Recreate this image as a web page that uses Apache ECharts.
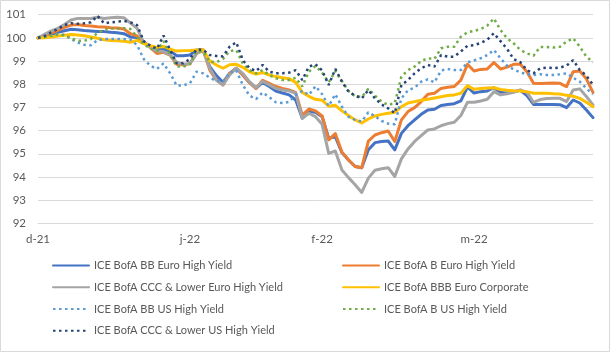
<!DOCTYPE html>
<html>
<head>
<meta charset="utf-8">
<script src="https://cdn.jsdelivr.net/npm/echarts@6/dist/echarts.min.js"></script>
<style>
html,body{margin:0;padding:0;background:#fff;}
#c{width:610px;height:352px;}
</style>
</head>
<body>
<div id="c"></div>
<script>
// Tick labels and their category positions
var tickLabels = ['d-21', 'j-22', 'f-22', 'm-22'];
var tickIndex = [0, 23, 43, 66];

// Series names
var seriesNames = [
  'ICE BofA BB Euro High Yield',
  'ICE BofA B Euro High Yield',
  'ICE BofA CCC & Lower Euro High Yield',
  'ICE BofA BBB Euro Corporate',
  'ICE BofA BB US High Yield',
  'ICE BofA B US High Yield',
  'ICE BofA CCC & Lower US High Yield'
];

var bbEuro = [100.0,100.07,100.15,100.24,100.31,100.37,100.35,100.32,100.30,100.28,100.27,100.24,100.22,100.18,100.04,100.02,99.81,99.62,99.53,99.52,99.43,99.23,99.23,99.26,99.48,99.48,98.76,98.37,98.08,98.47,98.69,98.40,98.08,97.82,98.08,97.90,97.71,97.62,97.54,97.32,96.53,96.82,96.79,96.60,95.67,95.74,95.05,94.73,94.45,94.40,95.17,95.48,95.53,95.55,95.17,95.88,96.21,96.46,96.70,96.89,96.92,97.08,97.13,97.16,97.28,97.88,97.62,97.68,97.71,97.85,97.65,97.62,97.68,97.74,97.51,97.13,97.13,97.13,97.13,97.12,96.99,97.32,97.19,96.89,96.56];

var bEuro = [100.0,100.09,100.21,100.32,100.45,100.55,100.58,100.53,100.51,100.48,100.47,100.44,100.43,100.38,100.18,100.08,99.84,99.58,99.33,99.38,99.26,98.86,98.83,98.89,99.33,99.46,98.61,98.18,97.97,98.47,98.69,98.40,98.08,97.82,98.17,98.04,97.90,97.82,97.75,97.65,96.67,96.93,96.85,96.63,95.60,95.87,95.07,94.73,94.45,94.40,95.55,95.81,95.91,95.98,95.53,96.46,96.82,96.99,97.25,97.57,97.61,97.82,97.87,97.90,98.18,98.86,98.57,98.64,98.66,98.94,98.66,98.74,98.86,98.86,98.54,98.04,98.03,98.04,98.05,98.04,97.90,98.54,98.57,98.23,97.65];

var cccEuro = [100.0,100.15,100.30,100.41,100.58,100.77,100.84,100.84,100.84,100.89,100.84,100.87,100.89,100.87,100.64,100.41,99.81,99.59,99.43,99.41,99.26,98.95,98.86,98.90,99.33,99.48,98.69,98.18,97.97,98.40,98.69,98.47,98.11,97.85,98.13,97.97,97.82,97.75,97.71,97.61,96.53,96.75,96.60,96.27,95.02,95.12,94.30,93.97,93.66,93.33,93.95,94.29,94.35,94.40,94.02,94.78,95.21,95.53,95.78,96.03,96.07,96.21,96.30,96.36,96.65,97.22,97.22,97.28,97.35,97.68,97.54,97.59,97.65,97.75,97.65,97.22,97.34,97.38,97.39,97.39,97.25,97.75,97.80,97.47,97.11];

var bbbEuroCorp = [100.0,100.01,100.04,100.08,100.11,100.15,100.12,100.09,100.04,99.98,99.92,99.89,99.88,99.85,99.81,99.89,99.75,99.66,99.59,99.63,99.51,99.43,99.45,99.46,99.48,99.49,99.00,98.83,98.69,98.84,98.86,98.73,98.54,98.44,98.50,98.40,98.33,98.28,98.24,98.08,97.65,97.48,97.35,97.31,97.05,97.09,96.85,96.65,96.46,96.33,96.50,96.63,96.70,96.75,96.79,97.03,97.19,97.25,97.31,97.35,97.41,97.46,97.51,97.54,97.61,97.94,97.78,97.82,97.84,97.85,97.77,97.74,97.72,97.71,97.68,97.61,97.61,97.61,97.59,97.58,97.52,97.48,97.39,97.22,97.03];

var bbUS = [100.0,100.04,100.10,100.15,100.12,99.95,99.80,99.70,99.68,99.90,99.95,99.95,99.95,99.95,99.92,99.69,99.09,98.80,98.66,98.90,98.47,97.94,97.95,98.04,98.54,98.47,98.28,98.14,98.11,98.50,98.60,97.97,97.51,97.36,97.64,97.44,97.22,97.19,97.24,97.54,97.71,97.54,97.92,97.57,97.06,97.57,97.03,96.59,96.46,96.39,96.79,96.62,96.42,96.30,96.27,97.39,97.74,97.85,98.11,98.21,98.08,98.59,98.66,98.61,98.61,98.94,99.03,99.12,99.26,99.48,99.12,98.79,98.64,98.51,98.43,98.40,98.43,98.40,98.40,98.43,98.47,98.28,98.11,97.82,97.57];

var bUS = [100.0,100.05,100.10,100.15,100.12,99.98,99.88,99.88,99.95,100.22,100.35,100.40,100.40,100.42,100.38,100.05,99.72,99.55,99.43,99.86,99.26,98.76,98.76,98.86,99.43,99.41,98.97,98.95,99.09,99.43,99.48,98.90,98.61,98.47,98.61,98.40,98.26,98.18,98.18,98.28,97.90,98.54,98.79,98.50,98.08,98.57,98.14,97.71,97.48,97.45,97.80,97.51,97.25,97.11,97.18,98.33,98.61,98.76,99.00,99.12,99.09,99.55,99.62,99.62,100.05,100.24,100.30,100.38,100.53,100.84,100.34,99.98,99.76,99.48,99.33,99.23,99.61,99.61,99.58,99.62,99.84,99.98,99.62,99.19,98.95];

var cccUS = [100.0,100.08,100.24,100.38,100.55,100.63,100.61,100.63,100.67,100.95,100.63,100.67,100.70,100.73,100.67,100.55,99.86,99.66,99.53,100.10,99.48,98.90,98.90,99.09,99.51,99.48,99.26,99.22,99.20,99.62,99.81,99.04,98.69,98.57,98.83,98.54,98.47,98.47,98.50,98.61,98.18,98.76,98.86,98.60,97.97,98.66,98.11,97.68,97.51,97.39,97.75,97.39,97.13,96.96,96.75,97.97,98.18,98.47,98.69,98.83,98.76,99.26,99.19,99.19,99.41,99.66,99.69,99.78,99.92,100.20,99.86,99.52,99.08,98.95,98.61,98.47,98.69,98.72,98.69,98.72,98.80,99.04,98.61,98.37,97.97];

var categories = bbEuro.map(function (_, i) { return String(i); });

var FONT = 'Lato, "Liberation Sans", sans-serif';
var TXT = '#595959';

var chart = echarts.init(document.getElementById('c'), null, {renderer: 'canvas'});

function solid(name, data, color) {
  return {
    name: name, type: 'line', data: data, showSymbol: false, symbol: 'none',
    lineStyle: {color: color, width: 3, join: 'round', cap: 'round'},
    itemStyle: {color: color},
    emphasis: {disabled: true}, animation: false
  };
}
function dotted(name, data, color) {
  return {
    name: name, type: 'line', data: data, showSymbol: false, symbol: 'none',
    lineStyle: {color: color, width: 2.5, type: [2.5, 3.5], cap: 'butt'},
    itemStyle: {color: color},
    emphasis: {disabled: true}, animation: false
  };
}

var legendCommon = {
  orient: 'vertical', top: 260, padding: 0, itemWidth: 36, itemHeight: 14, itemGap: 10.5,
  itemStyle: {opacity: 0},
  textStyle: {color: TXT, fontSize: 11, fontFamily: FONT},
  selectedMode: false
};

chart.setOption({
  animation: false,
  backgroundColor: '#fff',
  grid: {left: 38, right: 17, top: 14.7, bottom: 128.7, containLabel: false},
  xAxis: {
    type: 'category', data: categories, boundaryGap: false,
    axisLine: {show: true, lineStyle: {color: '#D9D9D9', width: 1}},
    axisTick: {show: false},
    splitLine: {show: false},
    axisLabel: {
      interval: function (idx) { return tickIndex.indexOf(idx) >= 0; },
      formatter: function (v) {
        var k = tickIndex.indexOf(Number(v));
        return k >= 0 ? tickLabels[k] : '';
      },
      color: TXT, fontSize: 11.5, fontFamily: FONT, margin: 10
    }
  },
  yAxis: {
    type: 'value', min: 92, max: 101, interval: 1,
    axisLine: {show: false}, axisTick: {show: false},
    splitLine: {lineStyle: {color: '#D9D9D9', width: 1}},
    axisLabel: {color: TXT, fontSize: 11.5, fontFamily: FONT, margin: 12}
  },
  legend: [
    Object.assign({}, legendCommon, {left: 52, data: [seriesNames[0], seriesNames[2], seriesNames[4], seriesNames[6]]}),
    Object.assign({}, legendCommon, {left: 342, data: [seriesNames[1], seriesNames[3], seriesNames[5]]})
  ],
  graphic: [{
    type: 'rect', silent: true, z: 100,
    shape: {x: 0.5, y: 0.5, width: 609, height: 351},
    style: {fill: null, stroke: '#D9D9D9', lineWidth: 1}
  }],
  series: [
    solid(seriesNames[0], bbEuro, '#4472C4'),
    solid(seriesNames[1], bEuro, '#ED7D31'),
    solid(seriesNames[2], cccEuro, '#A5A5A5'),
    solid(seriesNames[3], bbbEuroCorp, '#FFC000'),
    dotted(seriesNames[4], bbUS, '#5B9BD5'),
    dotted(seriesNames[5], bUS, '#70AD47'),
    dotted(seriesNames[6], cccUS, '#264478')
  ]
});
</script>
</body>
</html>
